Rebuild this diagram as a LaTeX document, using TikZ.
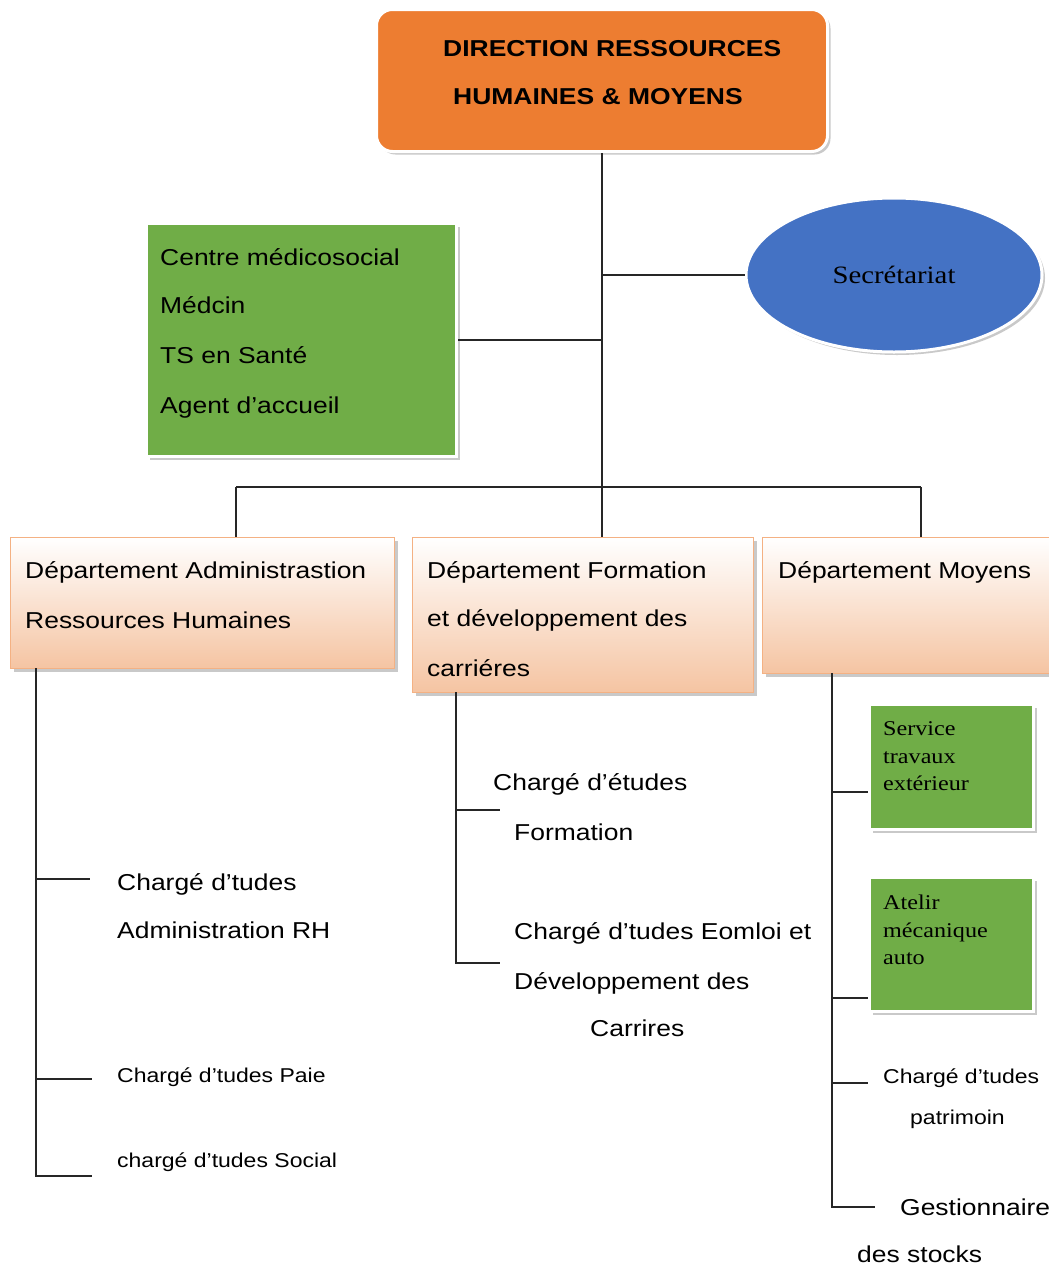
\documentclass[tikz,border=0pt]{standalone}
\usepackage{fontspec}
\setmainfont[FakeStretch=1.15]{Liberation Sans}
\newfontfamily\serifbox[FakeStretch=1.15]{Liberation Serif}
\usetikzlibrary{shapes.geometric}
\usetikzlibrary{shadows}

\definecolor{dirorange}{HTML}{ED7D31}
\definecolor{secblue}{HTML}{4472C4}
\definecolor{boxgreen}{HTML}{70AD47}
\definecolor{deptline}{HTML}{F4B183}
\definecolor{deptfill}{HTML}{F5C4A2}

\begin{document}
\begin{tikzpicture}[x=1pt,y=-1pt]
   \tikzset{Shade/.style={drop shadow={shadow xshift=3pt,shadow yshift=-3pt,fill=black!35,opacity=.6}}}
   \tikzset{Link/.style={line width=1.8pt,black!85}}
   \tikzset{DeptBox/.style={draw=deptline,line width=1.4pt,top color=white,bottom color=deptfill,anchor=north west,Shade}}
   \tikzset{GreenBox/.style={fill=boxgreen,draw=white,line width=3pt,anchor=north west,Shade}}
   \tikzset{Txt/.style={anchor=base west,inner sep=0pt,font=\fontsize{23}{28}\selectfont}}
   \tikzset{SmallTxt/.style={Txt,font=\fontsize{20}{24}\selectfont}}
   \tikzset{SerifTxt/.style={Txt,font=\serifbox\fontsize{21}{24}\selectfont}}
   \useasboundingbox[fill=white] (0,0) rectangle (1049,1269);

   % direction
   \node[fill=dirorange,draw=white,line width=3pt,rounded corners=16pt,anchor=north west,
         minimum width=451pt,minimum height=142pt,Shade] (dir) at (375,8) {};
   \node[Txt,font=\bfseries\fontsize{23}{28}\selectfont] (dirA) at (443,56) {DIRECTION RESSOURCES};
   \node[Txt,font=\bfseries\fontsize{23}{28}\selectfont] (dirB) at (453,104) {HUMAINES \& MOYENS};

   \node[ellipse,fill=secblue,draw=white,line width=3pt,minimum width=296pt,minimum height=154pt,
         Shade,font=\serifbox\fontsize{25}{30}\selectfont] (sec) at (894,275) {Secrétariat};

   \node[GreenBox,minimum width=310pt,minimum height=233pt] (med) at (145,222) {};
   \node[Txt] (medA) at (160,265) {Centre médicosocial};
   \node[Txt] (medB) at (160,313) {Médcin};
   \node[Txt] (medC) at (160,363) {TS en Santé};
   \node[Txt] (medD) at (160,413) {Agent d’accueil};

   % departements
   \node[DeptBox,minimum width=384pt,minimum height=131pt] (d1) at (10,537) {};
   \node[Txt] (d1A) at (25,578) {Département Administrastion};
   \node[Txt] (d1B) at (25,628) {Ressources Humaines};
   \node[DeptBox,minimum width=341pt,minimum height=155pt] (d2) at (412,537) {};
   \node[Txt] (d2A) at (427,578) {Département Formation};
   \node[Txt] (d2B) at (427,626) {et développement des};
   \node[Txt] (d2C) at (427,676) {carriéres};
   \node[DeptBox,minimum width=300pt,minimum height=136pt] (d3) at (762,537) {};
   \node[Txt] (d3A) at (778,578) {Département Moyens};

   % sous-services
   \node[Txt] (a1) at (117,890) {Chargé d’tudes};
   \node[Txt] (a2) at (117,938) {Administration RH};
   \node[SmallTxt] (a3) at (117,1082) {Chargé d’tudes Paie};
   \node[SmallTxt] (a4) at (117,1167) {chargé d’tudes Social};

   \node[Txt] (f1) at (493,790) {Chargé d’études};
   \node[Txt] (f2) at (514,840) {Formation};
   \node[Txt] (f3) at (514,939) {Chargé d’tudes Eomloi et};
   \node[Txt] (f4) at (514,989) {Développement des};
   \node[Txt] (f5) at (590,1036) {Carrires};

   \node[GreenBox,minimum width=164pt,minimum height=125pt] (s1) at (868,703) {};
   \node[SerifTxt] (s1A) at (883,735) {Service};
   \node[SerifTxt] (s1B) at (883,763) {travaux};
   \node[SerifTxt] (s1C) at (883,790) {extérieur};
   \node[GreenBox,minimum width=164pt,minimum height=134pt] (s2) at (868,876) {};
   \node[SerifTxt] (s2A) at (883,909) {Atelir};
   \node[SerifTxt] (s2B) at (883,937) {mécanique};
   \node[SerifTxt] (s2C) at (883,964) {auto};
   \node[SmallTxt] (m1) at (883,1083) {Chargé d’tudes};
   \node[SmallTxt] (m2) at (910,1124) {patrimoin};
   \node[Txt] (m3) at (900,1215) {Gestionnaire};
   \node[Txt] (m4) at (857,1262) {des stocks};

   % liaisons
   \coordinate (bus) at (dir.south |- 0,487);
   \coordinate (b1) at (236,487);
   \coordinate (b3) at (921,487);
   \draw[Link] (dir.south) -- (bus);
   \draw[Link] (dir.south |- sec.west) -- (sec.west);
   \draw[Link] (med.east) -- (med.east -| dir.south);
   \draw[Link] (b1) -- (b3);
   \draw[Link] (b1) -- (b1 |- d1.north);
   \draw[Link] (bus) -- (bus |- d2.north);
   \draw[Link] (b3) -- (b3 |- d3.north);

   \coordinate (l0) at (36,668);
   \coordinate (l1) at (90,879);
   \coordinate (l2) at (92,1079);
   \coordinate (l3) at (92,1176);
   \draw[Link] (l0) -- (l0 |- l3) -- (l3);
   \draw[Link] (l1 -| l0) -- (l1);
   \draw[Link] (l2 -| l0) -- (l2);

   \coordinate (c0) at (456,692);
   \coordinate (c1) at (500,810);
   \coordinate (c2) at (500,963);
   \draw[Link] (c0) -- (c0 |- c2) -- (c2);
   \draw[Link] (c1 -| c0) -- (c1);

   \coordinate (r0) at (832,673);
   \coordinate (r1) at (s1.west |- 0,792);
   \coordinate (r2) at (s2.west |- 0,998);
   \coordinate (r3) at (868,1083);
   \coordinate (r4) at (875,1207);
   \draw[Link] (r0) -- (r0 |- r4) -- (r4);
   \draw[Link] (r1 -| r0) -- (r1);
   \draw[Link] (r2 -| r0) -- (r2);
   \draw[Link] (r3 -| r0) -- (r3);
\end{tikzpicture}
\end{document}
